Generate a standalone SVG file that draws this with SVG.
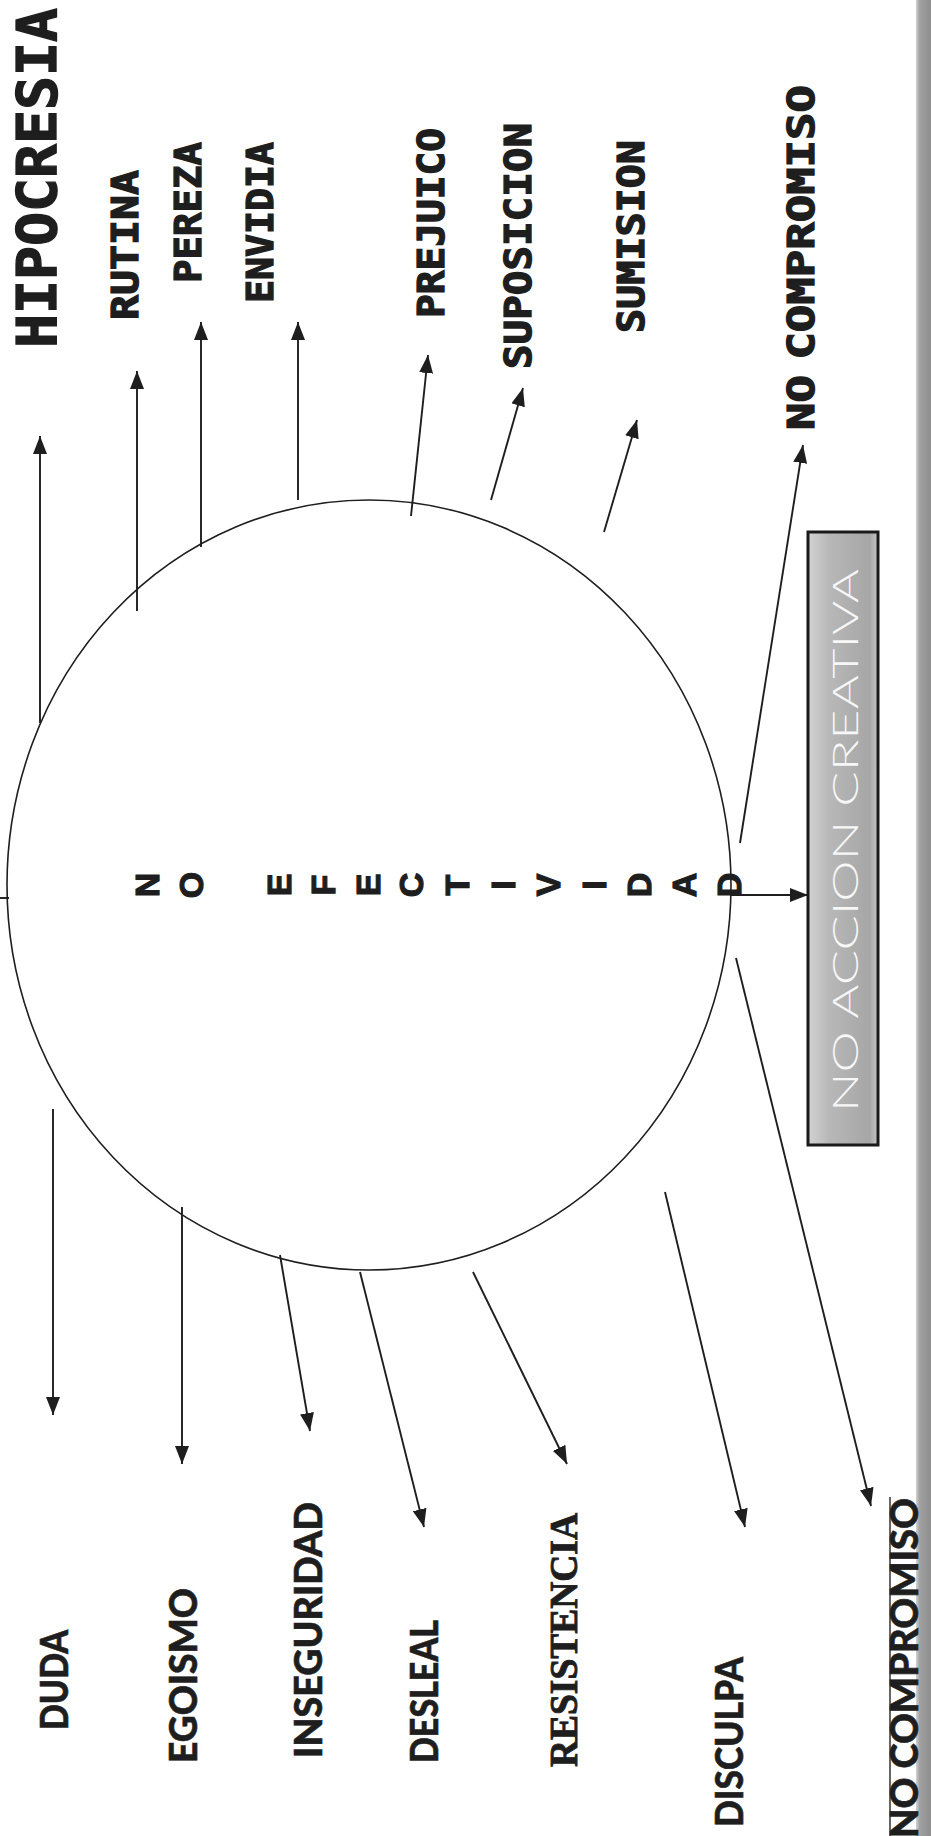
<svg xmlns="http://www.w3.org/2000/svg" width="931" height="1836" viewBox="0 0 931 1836">
<style>
.mono{font-family:"DejaVu Sans Mono","Liberation Mono",monospace;font-weight:bold;fill:#1e1e1e;stroke:#1e1e1e;stroke-width:1.3}
.gill{font-family:Lato,"Open Sans","Liberation Sans",sans-serif;font-weight:900;fill:#1e1e1e;stroke:#1e1e1e;stroke-width:0.6}
.serif{font-family:"Liberation Serif","Times New Roman",serif;font-weight:bold;fill:#1e1e1e;stroke:#1e1e1e;stroke-width:0.9}
.ctr{font-family:"Liberation Sans",Arial,sans-serif;font-weight:bold;font-size:34px;fill:#1e1e1e;stroke:#1e1e1e;stroke-width:1.2;text-anchor:middle}
.box{font-family:Lato,"Open Sans",sans-serif;font-weight:300;fill:#f7f7f7}
.conn line{stroke:#1e1e1e;stroke-width:1.9;marker-end:url(#ah)}
</style>
<defs>
<marker id="ah" markerUnits="userSpaceOnUse" markerWidth="18" markerHeight="14" refX="18" refY="7" orient="auto">
<path d="M0,0 L18,7 L0,14 z" fill="#1e1e1e"/>
</marker>
<linearGradient id="boxg" x1="0" y1="0" x2="1" y2="0">
<stop offset="0" stop-color="#d2d2d2"/>
<stop offset="0.3" stop-color="#b8b8b8"/>
<stop offset="0.88" stop-color="#a6a6a6"/>
<stop offset="1" stop-color="#c6c6c6"/>
</linearGradient>
<linearGradient id="edge" x1="0" y1="0" x2="1" y2="0">
<stop offset="0" stop-color="#d2d2d2"/>
<stop offset="0.25" stop-color="#a0a0a0"/>
<stop offset="1" stop-color="#8e8e8e"/>
</linearGradient>
</defs>
<rect x="0" y="0" width="931" height="1836" fill="#ffffff"/>
<rect x="916" y="0" width="15" height="1836" fill="url(#edge)"/>

<g id="ellipse-node">
<ellipse cx="369" cy="885" rx="362" ry="385" fill="none" stroke="#1e1e1e" stroke-width="1.6"/>
<g id="center-text">
<text class="ctr" transform="translate(159,885) rotate(-90)">N</text>
<text class="ctr" transform="translate(203,885) rotate(-90)">O</text>
<text class="ctr" transform="translate(291,885) rotate(-90)">E</text>
<text class="ctr" transform="translate(335,885) rotate(-90)">F</text>
<text class="ctr" transform="translate(380,885) rotate(-90)">E</text>
<text class="ctr" transform="translate(423,885) rotate(-90)">C</text>
<text class="ctr" transform="translate(469,885) rotate(-90)">T</text>
<text class="ctr" transform="translate(515,885) rotate(-90)">I</text>
<text class="ctr" transform="translate(560,885) rotate(-90)">V</text>
<text class="ctr" transform="translate(606,885) rotate(-90)">I</text>
<text class="ctr" transform="translate(651,885) rotate(-90)">D</text>
<text class="ctr" transform="translate(696,885) rotate(-90)">A</text>
<text class="ctr" transform="translate(741,885) rotate(-90)">D</text>
</g>
</g>

<g id="box-node">
<rect x="808" y="532" width="70" height="613" fill="url(#boxg)" stroke="#1a1a1a" stroke-width="3"/>
<text class="box" font-size="36" textLength="543" lengthAdjust="spacingAndGlyphs" transform="translate(858,1112) rotate(-90)">NO ACCION CREATIVA</text>
</g>

<g id="label-hipocresia"><text class="mono" font-size="56" textLength="340" lengthAdjust="spacingAndGlyphs" transform="translate(56,348) rotate(-90)">HIPOCRESIA</text></g>
<g id="label-rutina"><text class="mono" font-size="37" textLength="150" lengthAdjust="spacingAndGlyphs" transform="translate(138,320) rotate(-90)">RUTINA</text></g>
<g id="label-pereza"><text class="mono" font-size="37" textLength="141" lengthAdjust="spacingAndGlyphs" transform="translate(201,283) rotate(-90)">PEREZA</text></g>
<g id="label-envidia"><text class="mono" font-size="37" textLength="161" lengthAdjust="spacingAndGlyphs" transform="translate(273,303) rotate(-90)">ENVIDIA</text></g>
<g id="label-prejuico"><text class="mono" font-size="37" textLength="190" lengthAdjust="spacingAndGlyphs" transform="translate(444,318) rotate(-90)">PREJUICO</text></g>
<g id="label-suposicion"><text class="mono" font-size="37" textLength="246" lengthAdjust="spacingAndGlyphs" transform="translate(531,369) rotate(-90)">SUPOSICION</text></g>
<g id="label-sumision"><text class="mono" font-size="37" textLength="193" lengthAdjust="spacingAndGlyphs" transform="translate(644,333) rotate(-90)">SUMISION</text></g>
<g id="label-nocompromiso-top"><text class="mono" font-size="38" word-spacing="-10" textLength="345" lengthAdjust="spacingAndGlyphs" transform="translate(814,430) rotate(-90)">NO COMPROMISO</text></g>

<g id="label-duda"><text class="gill" font-size="38" textLength="100" lengthAdjust="spacingAndGlyphs" transform="translate(68,1730) rotate(-90)">DUDA</text></g>
<g id="label-egoismo"><text class="gill" font-size="38" textLength="175" lengthAdjust="spacingAndGlyphs" transform="translate(197,1763) rotate(-90)">EGOISMO</text></g>
<g id="label-inseguridad"><text class="gill" font-size="38" textLength="256" lengthAdjust="spacingAndGlyphs" transform="translate(322,1758) rotate(-90)">INSEGURIDAD</text></g>
<g id="label-desleal"><text class="gill" font-size="38" textLength="143" lengthAdjust="spacingAndGlyphs" transform="translate(438,1763) rotate(-90)">DESLEAL</text></g>
<g id="label-resistencia"><text class="serif" font-size="40" textLength="254" lengthAdjust="spacingAndGlyphs" transform="translate(577,1767) rotate(-90)">RESISTENCIA</text></g>
<g id="label-disculpa"><text class="gill" font-size="38" textLength="170" lengthAdjust="spacingAndGlyphs" transform="translate(743,1827) rotate(-90)">DISCULPA</text></g>
<g id="label-nocompromiso-bottom">
<line x1="890" y1="1497" x2="890" y2="1836" stroke="#333" stroke-width="1.5"/>
<text class="gill" font-size="38" textLength="340" lengthAdjust="spacingAndGlyphs" transform="translate(918,1838) rotate(-90)">NO COMPROMISO</text>
</g>

<g id="connectors" class="conn">
<line x1="40" y1="723" x2="40" y2="436"/>
<line x1="137" y1="611" x2="137" y2="371"/>
<line x1="201" y1="547" x2="201" y2="322"/>
<line x1="298" y1="500" x2="298" y2="322"/>
<line x1="411" y1="516" x2="428" y2="355"/>
<line x1="491" y1="500" x2="523" y2="388"/>
<line x1="604" y1="532" x2="637" y2="420"/>
<line x1="740" y1="843" x2="803" y2="445"/>
<line x1="731" y1="895" x2="808" y2="895"/>
<line x1="53" y1="1109" x2="53" y2="1415"/>
<line x1="182" y1="1207" x2="182" y2="1464"/>
<line x1="280" y1="1255" x2="310" y2="1431"/>
<line x1="360" y1="1272" x2="424" y2="1527"/>
<line x1="473" y1="1272" x2="567" y2="1464"/>
<line x1="665" y1="1192" x2="745" y2="1527"/>
<line x1="736" y1="958" x2="871" y2="1506"/>
<line x1="0" y1="898" x2="9" y2="898" style="marker-end:none"/>
</g>
</svg>
